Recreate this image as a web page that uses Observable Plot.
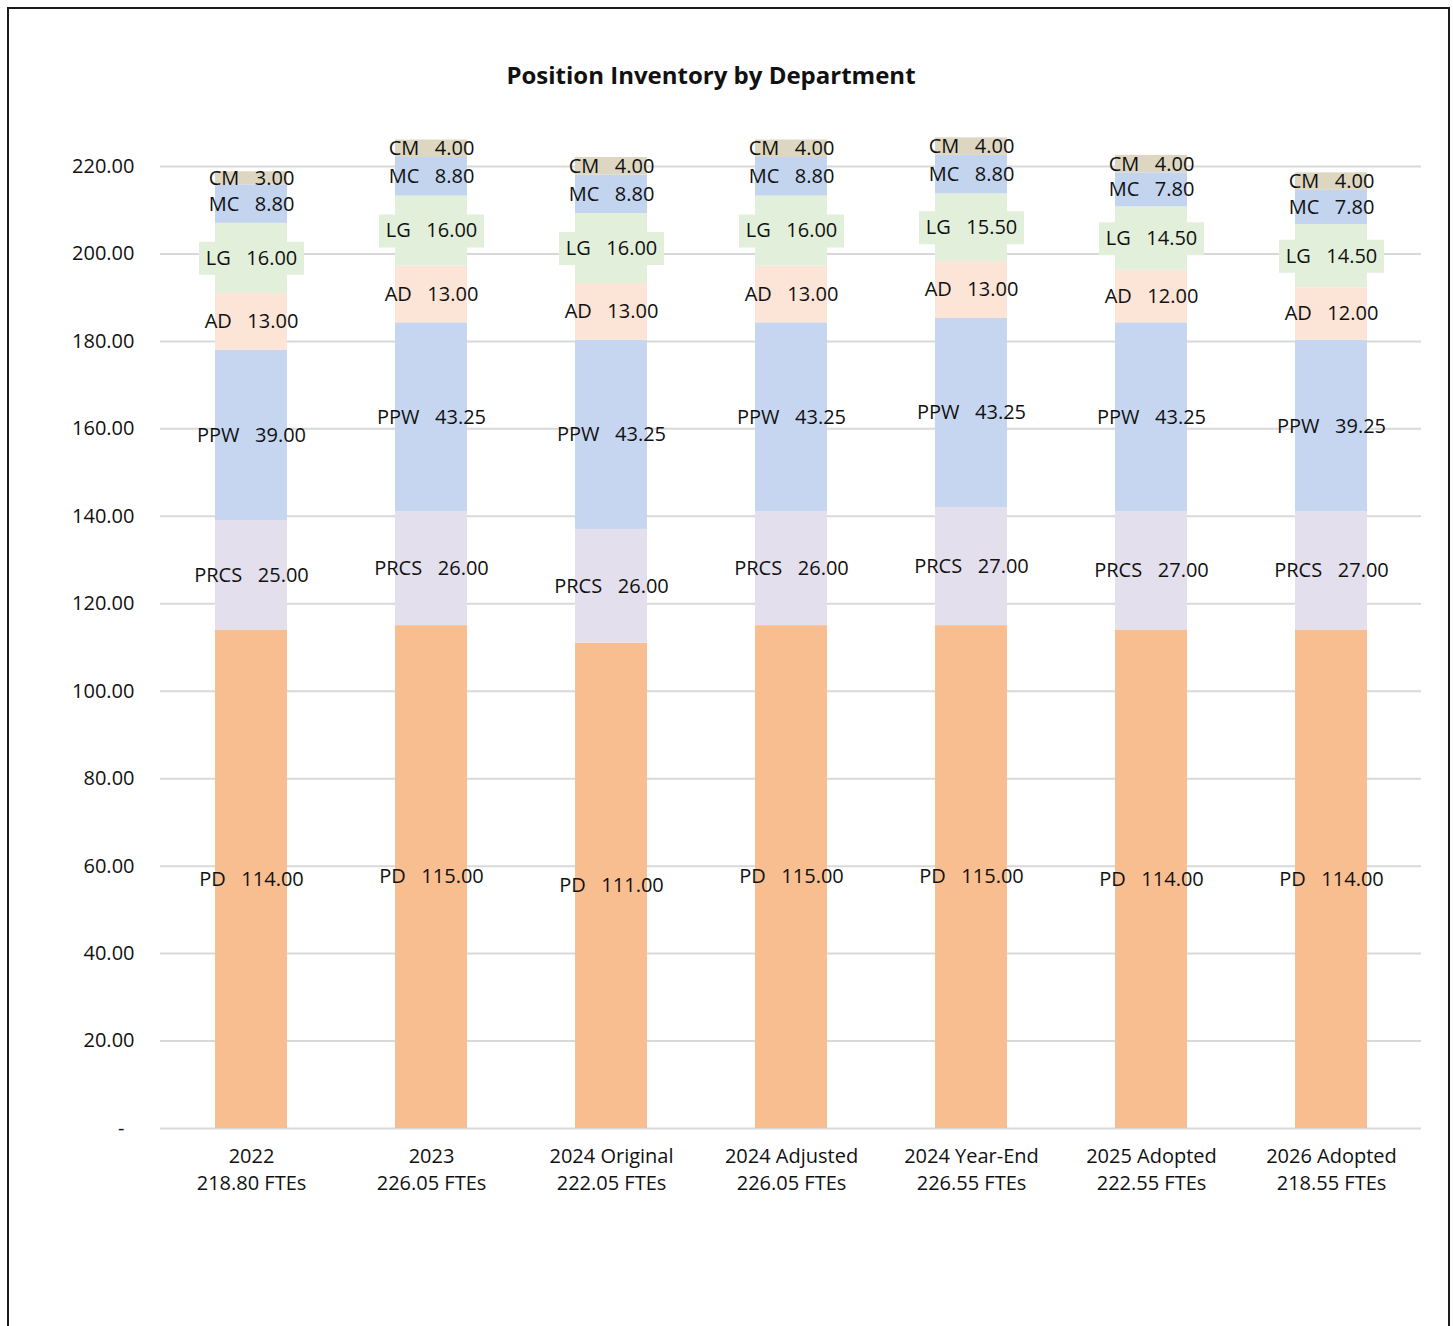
<!DOCTYPE html>
<html>
<head>
<meta charset="utf-8">
<script src="https://cdn.jsdelivr.net/npm/d3@7"></script>
<script src="https://cdn.jsdelivr.net/npm/@observablehq/plot@0.6"></script>
<style>
  html, body { margin: 0; padding: 0; background: #fff; }
  #frame { position: absolute; left: 7px; top: 7px; width: 1439px; height: 1345px; border: 2px solid #1c1c1c; }
  #title { position: absolute; left: 0; top: 60px; width: 1422px; text-align: center;
           font: bold 24px "Open Sans", sans-serif; line-height: 30px; color: #111; }
  #chart { position: absolute; left: 0; top: 120px; }
  #chart svg { overflow: visible; }
</style>
</head>
<body>
<div id="frame"></div>
<div id="title">Position Inventory by Department</div>
<div id="chart"></div>
<script>
// Budget years on the x axis
const categories = ["2022", "2023", "2024 Original", "2024 Adjusted", "2024 Year-End", "2025 Adopted", "2026 Adopted"];

// Departments, bottom of the stack first
const departments = ["PD", "PRCS", "PPW", "AD", "LG", "MC", "CM"];

// FTEs per department and year
const PD   = [114.00, 115.00, 111.00, 115.00, 115.00, 114.00, 114.00];
const PRCS = [25.00, 26.00, 26.00, 26.00, 27.00, 27.00, 27.00];
const PPW  = [39.00, 43.25, 43.25, 43.25, 43.25, 43.25, 39.25];
const AD   = [13.00, 13.00, 13.00, 13.00, 13.00, 12.00, 12.00];
const LG   = [16.00, 16.00, 16.00, 16.00, 15.50, 14.50, 14.50];
const MC   = [8.80, 8.80, 8.80, 8.80, 8.80, 7.80, 7.80];
const CM   = [3.00, 4.00, 4.00, 4.00, 4.00, 4.00, 4.00];

// Value axis ticks
const yTicks = [0, 20, 40, 60, 80, 100, 120, 140, 160, 180, 200, 220];

const departmentColors = ["#F8BE8F", "#E4DFEC", "#C6D6F0", "#FCE4D6", "#E2EFDA", "#C3D4EF", "#DDD6C1"];

const series = {PD, PRCS, PPW, AD, LG, MC, CM};
const rows = [];
departments.forEach(dept => {
  categories.forEach((cat, i) => rows.push({cat, dept, value: series[dept][i]}));
});

const totals = new Map(categories.map((cat, i) =>
  [cat, departments.reduce((s, d) => s + series[d][i], 0)]));

// Fixed-size box drawn behind the LG labels
const labelBox = {
  draw(context) {
    context.rect(-52.5, -16.5, 105, 33);
  }
};

const font = '"Open Sans", sans-serif';

const chart = Plot.plot({
  width: 1453,
  height: 1108,
  marginTop: 46,
  marginBottom: 100,
  marginLeft: 160,
  marginRight: 32,
  style: {fontFamily: font, fontSize: "20px", color: "#111", background: "transparent"},
  x: {domain: categories, paddingInner: 0.6, paddingOuter: 0.3, label: null},
  y: {domain: [0, 220], label: null},
  color: {domain: departments, range: departmentColors},
  opacity: {domain: [0, 1], range: [0, 1]},
  marks: [
    Plot.gridY(yTicks, {stroke: "#D9D9D9", strokeOpacity: 1, strokeWidth: 2}),
    Plot.barY(rows, {x: "cat", y: "value", fill: "dept", order: departments}),
    Plot.dot(rows, Plot.stackY({
      x: "cat", y: "value", z: "dept", order: departments,
      symbol: labelBox, r: 10, fill: "#E2EFDA",
      fillOpacity: d => d.dept === "LG" ? 1 : 0
    })),
    Plot.text(rows, Plot.stackY({
      x: "cat", y: "value", z: "dept", order: departments,
      text: d => `${d.dept}\u00a0\u00a0\u00a0${d.value.toFixed(2)}`,
      fill: "#111", fontSize: 20, fontFamily: font
    })),
    Plot.axisY(yTicks, {
      tickSize: 0, tickPadding: 26, fontSize: 20, label: null,
      tickFormat: d => d === 0 ? "-\u2002" : d.toFixed(2)
    }),
    Plot.axisX({
      tickSize: 0, tickPadding: 15, fontSize: 20, lineHeight: 1.35, label: null,
      tickFormat: cat => `${cat}\n${totals.get(cat).toFixed(2)} FTEs`
    })
  ]
});

document.getElementById("chart").append(chart);
</script>
</body>
</html>
